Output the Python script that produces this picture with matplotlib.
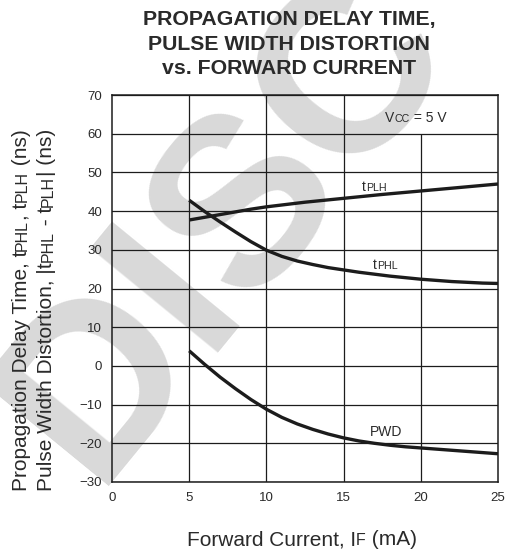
import matplotlib
matplotlib.use("Agg")
import matplotlib.pyplot as plt
from matplotlib.transforms import IdentityTransform

plt.rcParams['font.family'] = ['Liberation Sans', 'DejaVu Sans']

# ---------------- data ----------------
x_plh = [5, 6, 7, 8, 9, 10, 12.5, 15, 17.5, 20, 22.5, 25]
t_plh = [37.7, 38.4, 39.1, 39.8, 40.5, 41.1, 42.3, 43.3, 44.3, 45.2, 46.1, 47.0]

x_phl = [5, 6, 7, 8, 9, 10, 11, 12, 13, 14, 15, 16, 17, 18, 19, 20, 21, 22, 23, 24, 25]
t_phl = [42.8, 39.9, 37.2, 34.6, 32.1, 29.9, 28.3, 27.1, 26.2, 25.4, 24.8, 24.2, 23.7,
         23.2, 22.8, 22.4, 22.1, 21.8, 21.6, 21.4, 21.3]

x_pwd = [5, 6, 7, 8, 9, 10, 11, 12, 13, 14, 15, 16, 17, 18, 19, 20, 21, 22, 23, 24, 25]
pwd = [3.9, 0.4, -2.9, -5.9, -8.7, -11.2, -13.3, -15.0, -16.4, -17.6, -18.6, -19.4, -20.0,
       -20.5, -20.9, -21.2, -21.5, -21.8, -22.1, -22.4, -22.7]

x_ticks = [0, 5, 10, 15, 20, 25]
y_ticks = [-30, -20, -10, 0, 10, 20, 30, 40, 50, 60, 70]
title_lines = ["PROPAGATION DELAY TIME,", "PULSE WIDTH DISTORTION", "vs. FORWARD CURRENT"]

INK = '#1c1c1c'
TXT = '#2a2a2a'
W, H = 509, 552

fig = plt.figure(figsize=(W / 100, H / 100), dpi=100)
ax = fig.add_axes([112 / W, (H - 482) / H, (498 - 112) / W, (482 - 95) / H])
ax.patch.set_alpha(0)
ax.set_xlim(0, 25)
ax.set_ylim(-30, 70)

# grid
ax.set_yticks(y_ticks)
ax.set_xticks(x_ticks)
ax.grid(axis='y', color=INK, lw=0.9, zorder=1)
ax.vlines([5, 10, 15], -30, 70, color=INK, lw=0.9, zorder=1)
ax.vlines([20], -30, 60, color=INK, lw=0.9, zorder=1)
for s in ax.spines.values():
    s.set_color(INK)
    s.set_linewidth(1.1)
ax.tick_params(length=0, labelsize=9.5, labelcolor=TXT, pad=7)

# curves
kw = dict(color=INK, lw=2.4, solid_capstyle='butt', solid_joinstyle='round', zorder=3)
ax.plot(x_plh, t_plh, **kw)
ax.plot(x_phl, t_phl, **kw)
ax.plot(x_pwd, pwd, **kw)

renderer = fig.canvas.get_renderer()


def text_width(s, size, weight='normal'):
    t = fig.text(0, 0, s + 'x', fontsize=size, weight=weight)
    t2 = fig.text(0, 0, 'x', fontsize=size, weight=weight)
    w = t.get_window_extent(renderer).width - t2.get_window_extent(renderer).width
    t.remove()
    t2.remove()
    return w


def rich(x, y, pieces, rotation=0, ha='left', color=TXT):
    """pieces: list of (string, fontsize); x, y: display px of baseline start."""
    widths = [text_width(s, sz) for s, sz in pieces]
    total = sum(widths)
    off = 0.0
    if ha == 'center':
        off = -total / 2
    for (s, sz), w in zip(pieces, widths):
        if rotation == 90:
            px, py = x, y + off
        else:
            px, py = x + off, y
        fig.text(px, py, s, fontsize=sz, color=color, rotation=rotation,
                 rotation_mode='anchor', ha='left', va='baseline',
                 transform=IdentityTransform())
        off += w


def data_px(x, y):
    return ax.transData.transform((x, y))

# watermark
fig.text(93, 66, "DISC", fontsize=172, weight='bold', color='#d9d9d9',
         rotation=50.7, rotation_mode='anchor', ha='left', va='baseline',
         transform=IdentityTransform(), zorder=-5)

# title
for i, line in enumerate(title_lines):
    fig.text(289, H - (25 + 24.5 * i), line, fontsize=15.3, weight='bold', color=TXT,
             ha='center', va='baseline', transform=IdentityTransform())

# curve labels
BIG, SMALL = 10, 7.7
px, py = data_px(16.2, 45.3)
rich(px, py, [("t", BIG), ("PLH", SMALL)])
px, py = data_px(16.9, 25.0)
rich(px, py, [("t", BIG), ("PHL", SMALL)])
px, py = data_px(16.7, -18.1)
rich(px, py, [("PWD", BIG)])
px, py = data_px(17.7, 63.1)
rich(px, py, [("V", BIG), ("CC", SMALL), (" = 5 V", BIG)])

# axis labels
L, S = 15, 11.5
rich(302, H - 545, [("Forward Current, I", L), ("F", S), (" (mA)", L)], ha='center')
rich(27, H - 491, [("Propagation Delay Time, t", L), ("PHL", S), (", t", L), ("PLH", S), (" (ns)", L)],
     rotation=90)
rich(52.5, H - 491, [("Pulse Width Distortion, |t", L), ("PHL", S), (" - t", L), ("PLH", S), ("| (ns)", L)],
     rotation=90)

fig.savefig("out.png", dpi=100)
